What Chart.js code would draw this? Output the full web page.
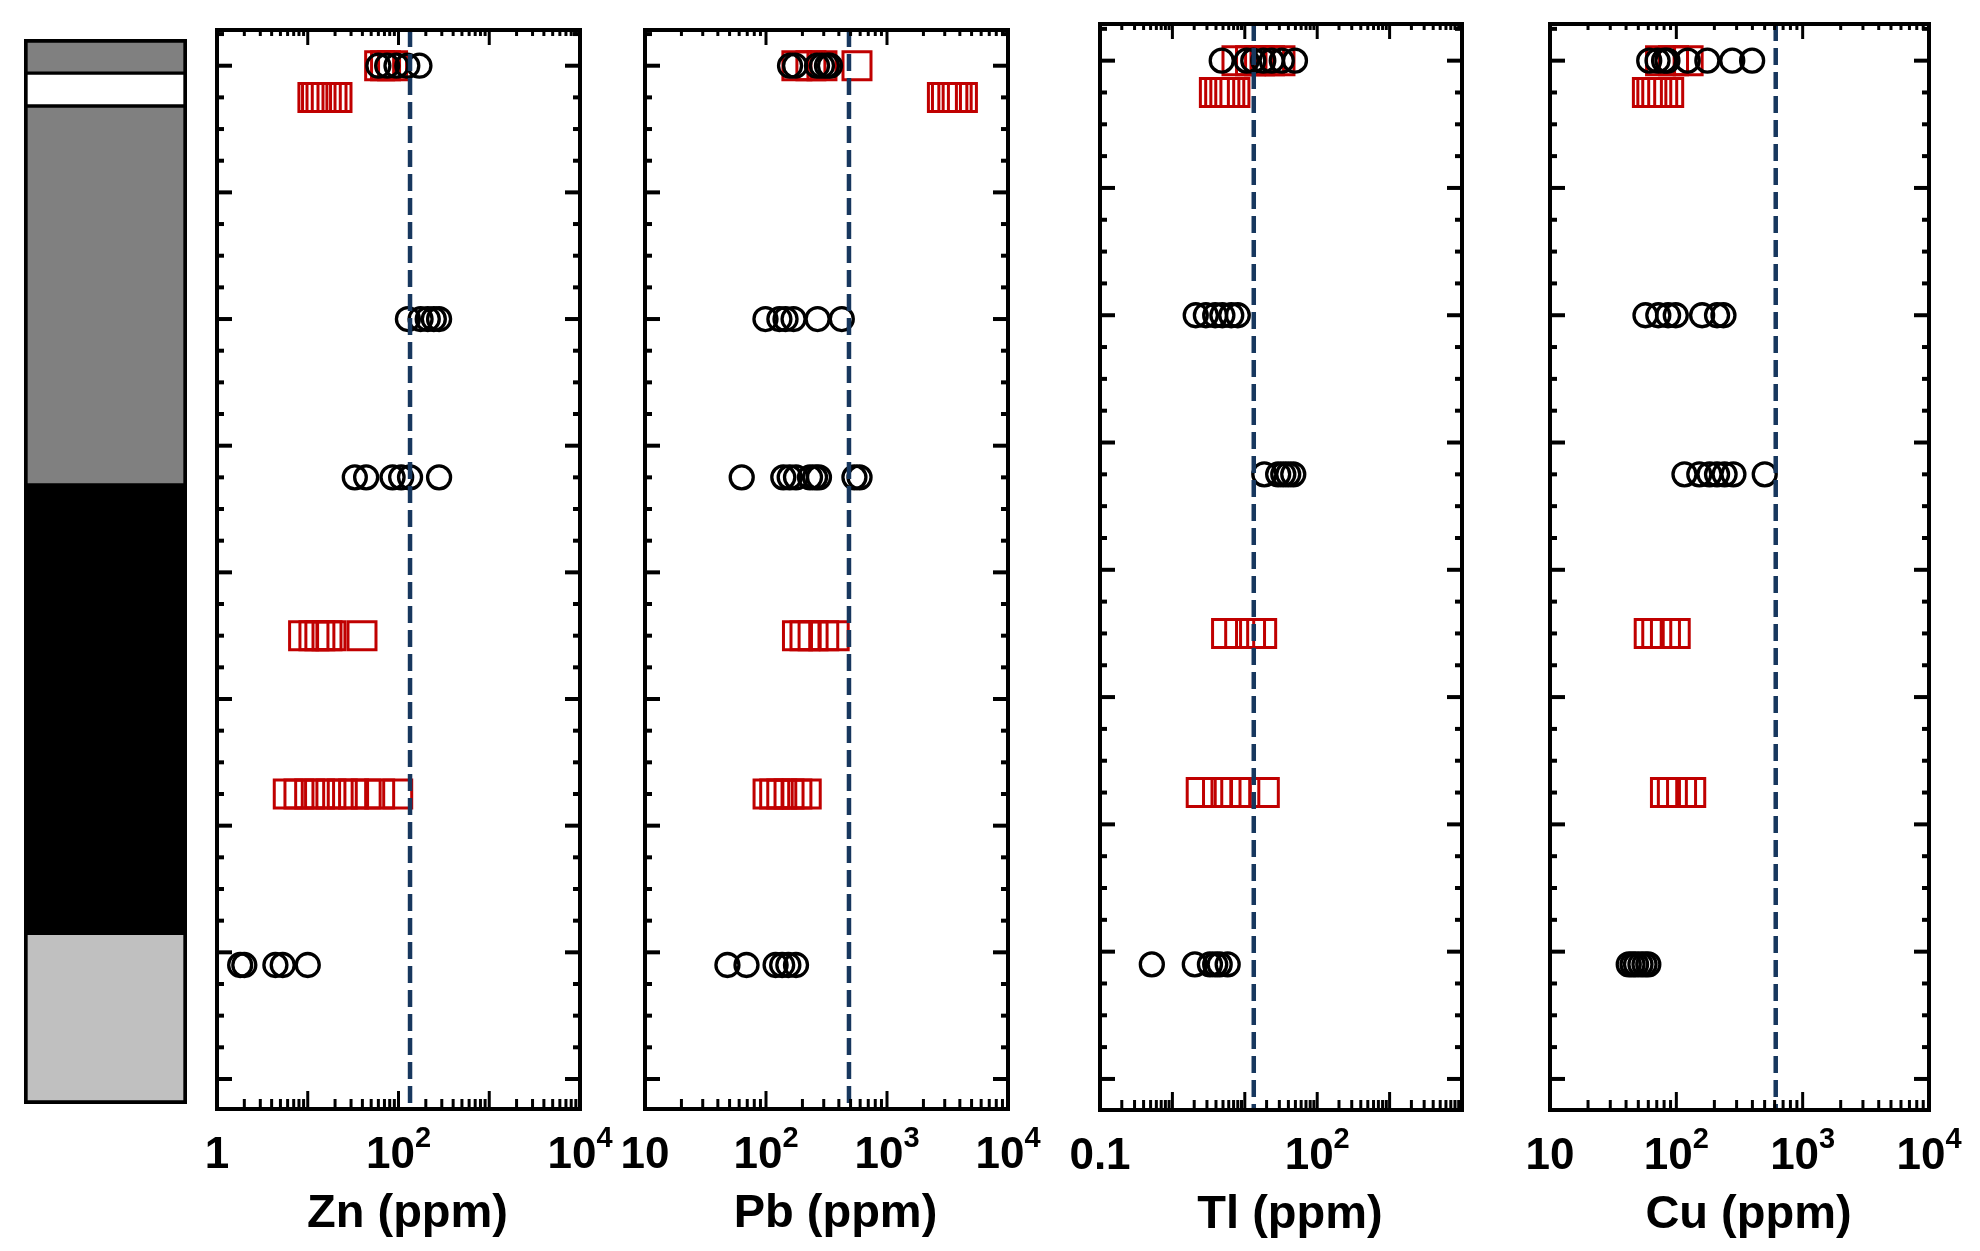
<!DOCTYPE html>
<html>
<head>
<meta charset="utf-8">
<script src="https://cdn.jsdelivr.net/npm/chart.js@4.4.1/dist/chart.umd.min.js"></script>
<style>
  html, body { margin: 0; padding: 0; background: #fff; }
  #wrap { position: relative; width: 1980px; height: 1251px; }
  #wrap canvas { position: absolute; left: 0; top: 0; }
</style>
</head>
<body>
<div id="wrap">
  <canvas id="lith" width="1980" height="1251"></canvas>
  <canvas id="zn" width="1980" height="1251"></canvas>
  <canvas id="pb" width="1980" height="1251"></canvas>
  <canvas id="tl" width="1980" height="1251"></canvas>
  <canvas id="cu" width="1980" height="1251"></canvas>
</div>
<script>
// lithology column (depth units, 0..80 = major ticks)
const lithTop = [-2.11, 0.58, 3.18, 33.1, 68.5];
const lithBase = [0.58, 3.18, 33.1, 68.5, 81.97];
const lithColors = ['#808080', '#ffffff', '#808080', '#000000', '#c0c0c0'];

// [depth, [ppm values]] - black circles and red squares
const znBlack = [
  [0, [60, 75, 95, 125, 170]],
  [20, [127, 175, 210, 245, 280]],
  [32.5, [33, 44, 86, 107, 134, 280]],
  [71, [1.8, 2.0, 4.4, 5.3, 10]]
];
const znRed = [
  [0, [62, 72, 86]],
  [2.5, [11.4, 12.5, 14, 16, 18.5, 21]],
  [45, [9, 11.7, 13.6, 16.3, 18, 39.6]],
  [57.5, [6.1, 8, 10.5, 13.5, 18, 24, 32, 44, 62, 98]]
];
const pbBlack = [
  [0, [158, 174, 264, 290, 319, 338]],
  [20, [99, 129, 145, 169, 267, 423]],
  [32.5, [63, 139, 157, 177, 231, 254, 274, 538, 593]],
  [71, [48, 69, 120, 136, 153, 177]]
];
const pbRed = [
  [0, [180, 235, 290, 565]],
  [2.5, [2870, 3100, 3500, 3800, 4200]],
  [45, [182, 210, 245, 300, 366]],
  [57.5, [104, 118, 135, 155, 180, 215]]
];
const tlBlack = [
  [0, [4.8, 10.6, 13.1, 18, 23.5, 32.4, 49.3]],
  [20, [2.1, 2.9, 3.9, 4.9, 6.5, 8]],
  [32.5, [18.6, 28.9, 34, 39.8, 46.7]],
  [71, [0.52, 2.04, 3.3, 3.9, 4.5, 5.8]]
];
const tlRed = [
  [0, [7.8, 12, 16, 22, 30.6]],
  [2.5, [3.8, 4.5, 5.3, 6.2, 7.3]],
  [45, [5.6, 8.5, 12, 17.1]],
  [57.5, [2.5, 4.2, 5.5, 7.5, 10, 18.6]]
];
const cuBlack = [
  [0, [61, 71, 80, 85, 123, 176, 277, 398]],
  [20, [57, 72, 86, 99, 160, 210, 236]],
  [32.5, [116, 152, 183, 210, 241, 283, 501]],
  [71, [42, 45, 48, 52, 56, 60]]
];
const cuRed = [
  [0, [75, 95, 124]],
  [2.5, [59, 64, 70, 78, 87]],
  [45, [61, 70, 82, 98]],
  [57.5, [82, 93, 110, 130]]
];

// reference (dashed) values
const znRef = 134, pbRef = 485, tlRef = 13.3, cuRef = 612;

// x tick labels
const znTickVals = [1, 100, 10000], znTickLabels = ['1', '10^2', '10^4'];
const pbTickVals = [10, 100, 1000, 10000], pbTickLabels = ['10', '10^2', '10^3', '10^4'];
const tlTickVals = [0.1, 100], tlTickLabels = ['0.1', '10^2'];
const cuTickVals = [10, 100, 1000, 10000], cuTickLabels = ['10', '10^2', '10^3', '10^4'];

const W = 1980, H = 1251;
const FONT = '"Liberation Sans", Arial, Helvetica, sans-serif';

function line(ctx, x1, y1, x2, y2) {
  ctx.beginPath();
  ctx.moveTo(x1, y1);
  ctx.lineTo(x2, y2);
  ctx.stroke();
}

function powerLabel(ctx, text, cx, base) {
  const parts = text.split('^');
  ctx.font = 'bold 44px ' + FONT;
  const wb = ctx.measureText(parts[0]).width;
  let we = 0;
  if (parts[1]) {
    ctx.font = 'bold 29px ' + FONT;
    we = ctx.measureText(parts[1]).width;
  }
  const x0 = cx - (wb + we) / 2;
  ctx.textAlign = 'left';
  ctx.font = 'bold 44px ' + FONT;
  ctx.fillText(parts[0], x0, base);
  if (parts[1]) {
    ctx.font = 'bold 29px ' + FONT;
    ctx.fillText(parts[1], x0 + wb, base - 21);
  }
}

// frame, inward ticks, tick labels and axis title
const panelFrame = {
  id: 'panelFrame',
  afterDatasetsDraw(chart, args, opts) {
    const { ctx, chartArea: a, scales: { x, y } } = chart;
    ctx.save();
    ctx.strokeStyle = '#000';
    ctx.fillStyle = '#000';
    ctx.lineCap = 'butt';

    // depth ticks on both sides
    ctx.lineWidth = 4;
    for (let d = Math.ceil(y.min / 2.5) * 2.5; d <= y.max; d += 2.5) {
      const py = y.getPixelForValue(d);
      const len = d % 10 === 0 ? 15 : 7;
      line(ctx, a.left, py, a.left + len, py);
      line(ctx, a.right, py, a.right - len, py);
    }

    // log ticks top & bottom
    ctx.lineWidth = 3;
    const d0 = Math.round(Math.log10(x.min)), d1 = Math.round(Math.log10(x.max));
    for (let e = d0; e <= d1; e++) {
      for (let m = 1; m <= 9; m++) {
        const v = m * Math.pow(10, e);
        if (v < x.min * 0.999 || v > x.max * 1.001) continue;
        const px = x.getPixelForValue(v);
        const major = m === 1;
        line(ctx, px, a.top, px, a.top + (major ? 15 : 6));
        line(ctx, px, a.bottom, px, a.bottom - (major ? 18 : 10));
      }
    }

    ctx.lineWidth = 4;
    ctx.strokeRect(a.left, a.top, a.right - a.left, a.bottom - a.top);

    ctx.textBaseline = 'alphabetic';
    opts.tickVals.forEach((v, i) => {
      powerLabel(ctx, opts.tickLabels[i], x.getPixelForValue(v), a.bottom + 59);
    });

    ctx.font = 'bold 47px ' + FONT;
    ctx.textAlign = 'center';
    ctx.fillText(opts.title, (a.left + a.right) / 2 + 9, a.bottom + 118);
    ctx.restore();
  }
};

function points(rows) {
  const out = [];
  rows.forEach(([d, vals]) => vals.forEach(v => out.push({ x: v, y: d })));
  return out;
}

function makePanel(id, p, black, red, ref, tickVals, tickLabels) {
  new Chart(document.getElementById(id), {
    type: 'scatter',
    data: {
      datasets: [
        {
          data: [{ x: ref, y: p.ymin }, { x: ref, y: p.ymax }],
          showLine: true,
          borderColor: '#17375E',
          borderWidth: 4.5,
          borderDash: [17, 7],
          pointRadius: 0,
          order: 0
        },
        {
          data: points(black),
          pointStyle: 'circle',
          pointRadius: 11.5,
          borderColor: '#000',
          borderWidth: 3.3,
          backgroundColor: 'rgba(0,0,0,0)',
          order: 1
        },
        {
          data: points(red),
          pointStyle: 'rect',
          pointRadius: 19.8,
          borderColor: '#C00000',
          borderWidth: 3,
          backgroundColor: 'rgba(0,0,0,0)',
          order: 2
        }
      ]
    },
    options: {
      responsive: false,
      animation: false,
      devicePixelRatio: 1,
      events: [],
      layout: { padding: { left: p.left, right: W - p.right, top: p.top, bottom: H - p.bottom } },
      plugins: {
        legend: { display: false },
        tooltip: { enabled: false },
        panelFrame: { title: p.title, tickVals: tickVals, tickLabels: tickLabels }
      },
      scales: {
        x: { type: 'logarithmic', min: p.xmin, max: p.xmax, display: false },
        y: { type: 'linear', reverse: true, min: p.ymin, max: p.ymax, display: false }
      }
    },
    plugins: [panelFrame]
  });
}

makePanel('zn', { title: 'Zn (ppm)', left: 217, right: 580, top: 30, bottom: 1109, xmin: 1, xmax: 1e4, ymin: -2.82, ymax: 82.37 },
  znBlack, znRed, znRef, znTickVals, znTickLabels);
makePanel('pb', { title: 'Pb (ppm)', left: 645, right: 1008, top: 30, bottom: 1109, xmin: 10, xmax: 1e4, ymin: -2.82, ymax: 82.37 },
  pbBlack, pbRed, pbRef, pbTickVals, pbTickLabels);
makePanel('tl', { title: 'Tl (ppm)', left: 1100, right: 1462, top: 24, bottom: 1110, xmin: 0.1, xmax: 1e4, ymin: -2.88, ymax: 82.44 },
  tlBlack, tlRed, tlRef, tlTickVals, tlTickLabels);
makePanel('cu', { title: 'Cu (ppm)', left: 1550, right: 1929, top: 24, bottom: 1110, xmin: 10, xmax: 1e4, ymin: -2.88, ymax: 82.44 },
  cuBlack, cuRed, cuRef, cuTickVals, cuTickLabels);

// lithology column as floating bars
new Chart(document.getElementById('lith'), {
  type: 'bar',
  data: {
    labels: [''],
    datasets: lithTop.map((t, i) => ({
      data: [[t, lithBase[i]]],
      backgroundColor: lithColors[i],
      borderColor: '#000',
      borderWidth: { left: 4, right: 4, top: i === 0 ? 4 : 2, bottom: i === lithTop.length - 1 ? 4 : 2 },
      borderSkipped: false,
      barPercentage: 1,
      categoryPercentage: 1
    }))
  },
  options: {
    responsive: false,
    animation: false,
    devicePixelRatio: 1,
    events: [],
    layout: { padding: { left: 24, right: W - 187, top: 39, bottom: H - 1104 } },
    plugins: { legend: { display: false }, tooltip: { enabled: false } },
    scales: {
      x: { display: false, stacked: true },
      y: { display: false, stacked: false, reverse: true, min: -2.11, max: 81.97 }
    }
  }
});
</script>
</body>
</html>
